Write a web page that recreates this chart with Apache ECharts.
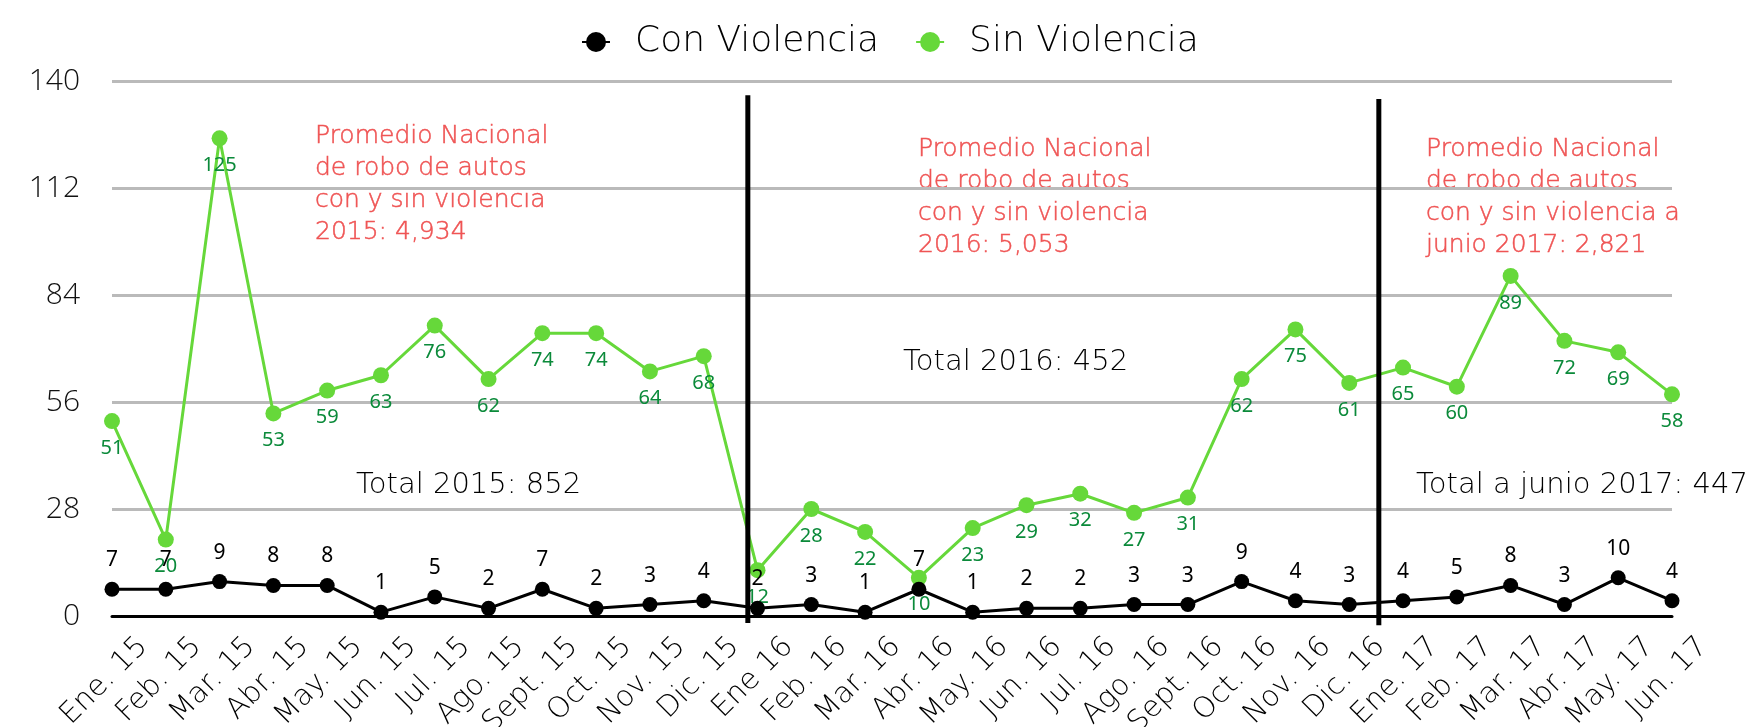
<!DOCTYPE html>
<html>
<head>
<meta charset="utf-8">
<script src="https://cdn.jsdelivr.net/npm/echarts@6/dist/echarts.min.js"></script>
<style>
  html, body { margin: 0; padding: 0; background: #fff; }
  #chart { width: 1757px; height: 727px; }
</style>
</head>
<body>
<div id="chart"></div>
<script>
// months shown on the x axis
const months = [
  'Ene. 15', 'Feb. 15', 'Mar. 15', 'Abr. 15', 'May. 15', 'Jun. 15', 'Jul. 15', 'Ago. 15',
  'Sept. 15', 'Oct. 15', 'Nov. 15', 'Dic. 15',
  'Ene 16', 'Feb. 16', 'Mar. 16', 'Abr. 16', 'May. 16', 'Jun. 16', 'Jul. 16', 'Ago. 16',
  'Sept. 16', 'Oct. 16', 'Nov. 16', 'Dic. 16',
  'Ene. 17', 'Feb. 17', 'Mar. 17', 'Abr. 17', 'May. 17', 'Jun. 17'
];
const conViolencia = [7, 7, 9, 8, 8, 1, 5, 2, 7, 2, 3, 4, 2, 3, 1, 7, 1, 2, 2, 3, 3, 9, 4, 3, 4, 5, 8, 3, 10, 4];
const sinViolencia = [51, 20, 125, 53, 59, 63, 76, 62, 74, 74, 64, 68, 12, 28, 22, 10, 23, 29, 32, 27, 31, 62, 75, 61, 65, 60, 89, 72, 69, 58];
const yTicks = [0, 28, 56, 84, 112, 140];

// year separators, in category units (between Dic. and Ene.)
const separator2016 = [[11.82, -1.8], [11.82, 136.3]];
const separator2017 = [[23.55, -2.4], [23.55, 135.3]];

const promedioTexts = [
  'Promedio Nacional\nde robo de autos\ncon y sin violencia\n2015: 4,934',
  'Promedio Nacional\nde robo de autos\ncon y sin violencia\n2016: 5,053',
  'Promedio Nacional\nde robo de autos\ncon y sin violencia a\njunio 2017: 2,821'
];
const totalTexts = ['Total 2015: 852', 'Total 2016: 452', 'Total a junio 2017: 447'];

const FONT = '"DejaVu Sans ExtraLight", "DejaVu Sans Light", "Open Sans", sans-serif';
const TICK_FONT = '"Open Sans", "Noto Sans", sans-serif';
const LABEL_FONT = '"Noto Sans", "Open Sans", sans-serif';
const GREEN = '#66d83a';
const RED = '#ef5454';

const chart = echarts.init(document.getElementById('chart'));

// red note text, stroked a little so the thin face reads like the original
function note(x, y, text) {
  return {
    type: 'text', x: x, y: y,
    style: { text: text, font: '200 25px ' + FONT, lineHeight: 32, fill: RED, stroke: RED, lineWidth: 0.5, verticalAlign: 'top' }
  };
}
function total(x, y, text) {
  return {
    type: 'text', x: x, y: y,
    style: { text: text, font: '200 29px ' + FONT, fill: '#000', verticalAlign: 'middle' }
  };
}

const option = {
  animation: false,
  backgroundColor: '#fff',
  grid: { left: 112, right: 85, top: 81, bottom: 111, outerBoundsMode: 'none', containLabel: false },
  legend: {
    data: ['Con Violencia', 'Sin Violencia'],
    top: 19,
    left: 576,
    itemWidth: 28,
    itemHeight: 25,
    itemGap: 36,
    textStyle: { fontFamily: FONT, fontSize: 36, fontWeight: 200, color: '#000', padding: [0, 0, 0, 20] }
  },
  xAxis: [
    {
      type: 'category',
      data: months,
      boundaryGap: false,
      axisLine: { lineStyle: { color: '#000', width: 3 } },
      axisTick: { show: false },
      axisLabel: {
        interval: 0,
        rotate: 45,
        align: 'right',
        verticalAlign: 'top',
        lineHeight: 88,
        margin: -5,
        fontFamily: FONT,
        fontSize: 29,
        fontWeight: 200,
        color: '#000'
      },
      splitLine: { show: false }
    },
    {
      type: 'value',
      min: 0,
      max: months.length - 1,
      show: false
    }
  ],
  yAxis: {
    type: 'value',
    min: yTicks[0],
    max: yTicks[yTicks.length - 1],
    interval: 28,
    axisLine: { show: false },
    axisTick: { show: false },
    axisLabel: { fontFamily: TICK_FONT, fontSize: 30, fontWeight: 300, color: '#111', margin: 32 },
    splitLine: { lineStyle: { color: '#bababa', width: 3 } }
  },
  series: [
    {
      name: 'Con Violencia',
      type: 'line',
      data: conViolencia,
      color: '#000',
      symbol: 'circle',
      symbolSize: 15,
      lineStyle: { width: 3, color: '#000' },
      label: {
        show: true,
        position: 'top',
        distance: 11,
        fontFamily: LABEL_FONT,
        fontSize: 21,
        color: '#000'
      },
      z: 3
    },
    {
      name: 'Sin Violencia',
      type: 'line',
      data: sinViolencia,
      color: GREEN,
      symbol: 'circle',
      symbolSize: 16,
      lineStyle: { width: 3, color: GREEN },
      label: {
        show: true,
        position: 'bottom',
        distance: 9,
        fontFamily: LABEL_FONT,
        fontSize: 20,
        color: '#0b8a3a'
      },
      z: 2
    },
    {
      name: 'sep2016',
      type: 'line',
      xAxisIndex: 1,
      data: separator2016,
      symbol: 'none',
      clip: false,
      silent: true,
      lineStyle: { color: '#000', width: 5 },
      z: 4
    },
    {
      name: 'sep2017',
      type: 'line',
      xAxisIndex: 1,
      data: separator2017,
      symbol: 'none',
      clip: false,
      silent: true,
      lineStyle: { color: '#000', width: 5 },
      z: 4
    }
  ],
  graphic: [
    note(315, 120, promedioTexts[0]),
    note(918, 133, promedioTexts[1]),
    note(1426, 133, promedioTexts[2]),
    total(356, 485, totalTexts[0]),
    total(903, 362, totalTexts[1]),
    total(1416, 485, totalTexts[2])
  ]
};

chart.setOption(option);
</script>
</body>
</html>
